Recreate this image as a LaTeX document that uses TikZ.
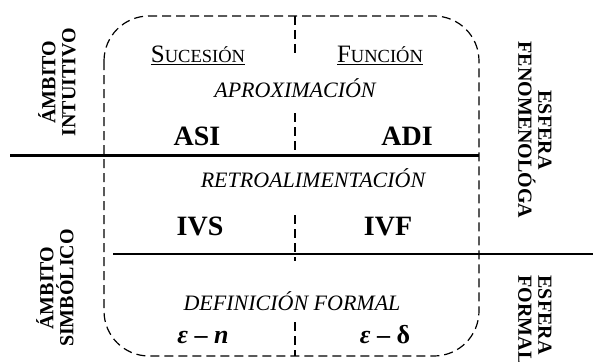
\documentclass[tikz,border=0pt]{standalone}
\usepackage{fontspec}
\setmainfont{Liberation Serif}
\newcommand\versal[2]{#1{\fontsize{18.5}{20}\selectfont #2}}
\begin{document}
\begin{tikzpicture}[x=1pt,y=-1pt,
	borde/.style={dash pattern=on 9pt off 5pt, line width=1.2pt},
	ambito/.style={font=\fontsize{20}{20}\selectfont\bfseries, align=center},
	tema/.style={font=\fontsize{25}{27}\selectfont, anchor=base},
	proceso/.style={font=\fontsize{22}{24}\selectfont\itshape, anchor=base},
	sigla/.style={font=\fontsize{28}{30}\selectfont\bfseries, anchor=base}]
		
		\useasboundingbox (0,0) rectangle (593,361);
		
		% marco y divisiones
		\draw[borde, rounded corners=45pt] (104,16) rectangle (479,356);
		\foreach \a/\b in {16/57, 113/156, 215/261, 322/356}
			\draw[borde] (295,\a) -- (295,\b);
		\draw[line width=3pt] (10,155) -- (479,155);
		\draw[line width=1.3pt] (113,254) -- (593,254);
		
		% ambitos y esferas
		\node[ambito, rotate=90] (intuitivo) at (57,82) {ÁMBITO\\INTUITIVO};
		\node[ambito, rotate=90] (simbolico) at (55,288) {ÁMBITO\\SIMBÓLICO};
		\node[ambito, rotate=-90] (fenomeno) at (535,130) {ESFERA\\FENOMENOLÓGA};
		\node[ambito, rotate=-90, align=left] (formal) at (535,320) {ESFERA\\FORMAL};
		
		% columnas
		\node[tema] (sucesion) at (198,63) {\underline{\versal{S}{UCESIÓN}}};
		\node[tema] (funcion) at (380,63) {\underline{\versal{F}{UNCIÓN}}};
		
		% procesos
		\node[proceso] (aprox) at (295,97) {APROXIMACIÓN};
		\node[proceso] (retro) at (313,187) {RETROALIMENTACIÓN};
		\node[proceso] (defin) at (292,310) {DEFINICIÓN FORMAL};
		
		% siglas
		\node[sigla] (asi) at (197,145) {ASI};
		\node[sigla] (adi) at (407,145) {ADI};
		\node[sigla] (ivs) at (200,235) {IVS};
		\node[sigla] (ivf) at (388,235) {IVF};
		\node[sigla, font=\fontsize{26}{28}\selectfont\bfseries] (epsn) at (203,343) {\textit{ε} – \textit{n}};
		\node[sigla, font=\fontsize{26}{28}\selectfont\bfseries] (epsd) at (385,343) {\textit{ε} – δ};
		
\end{tikzpicture}
\end{document}
